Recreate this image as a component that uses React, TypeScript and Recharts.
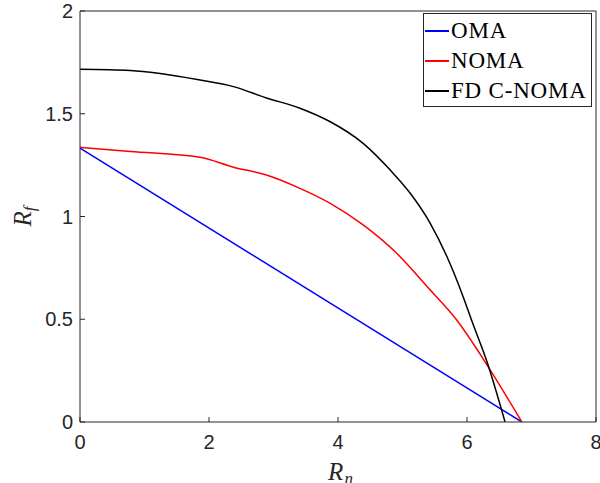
import { LineChart, Line, XAxis, YAxis, Label } from 'recharts'

// achievable rate region: far-user rate R_f vs near-user rate R_n
const omaRn = [0, 6.85]
const omaRf = [1.333, 0]

const nomaRn = [0, 0.78, 1.86, 2.38, 2.89, 3.41, 3.88, 4.39, 4.91, 5.43, 5.84, 6.28, 6.85]
const nomaRf = [1.337, 1.316, 1.288, 1.24, 1.202, 1.137, 1.064, 0.959, 0.821, 0.642, 0.496, 0.293, 0]

const fdRn = [0, 0.78, 1.86, 2.38, 2.89, 3.41, 3.88, 4.39, 4.81, 5.12, 5.43, 5.69, 5.94, 6.07, 6.31, 6.59]
const fdRf = [1.716, 1.71, 1.664, 1.632, 1.577, 1.527, 1.461, 1.356, 1.226, 1.113, 0.967, 0.804, 0.61, 0.496, 0.293, 0]

const xTicks = [0, 2, 4, 6, 8]
const yTicks = [0, 0.5, 1, 1.5, 2]

const series = [
  { name: 'OMA', color: '#0000ff', rn: omaRn, rf: omaRf },
  { name: 'NOMA', color: '#ff0000', rn: nomaRn, rf: nomaRf },
  { name: 'FD C-NOMA', color: '#000000', rn: fdRn, rf: fdRf },
]

const axisColor = '#262626'
const tickFont = { fontSize: 20, fill: axisColor, fontFamily: 'Liberation Sans, Arial, sans-serif' }
const mathFont = 'Liberation Serif, Times New Roman, serif'

function LegendBox() {
  return (
    <div
      style={{
        position: 'absolute',
        left: 423,
        top: 13,
        width: 169,
        height: 94,
        boxSizing: 'border-box',
        border: `1px solid ${axisColor}`,
        background: '#fff',
        padding: '2px 0 0 1px',
        fontFamily: mathFont,
        fontSize: 23,
        letterSpacing: 0.8,
        color: '#000',
        lineHeight: '30px',
      }}
    >
      {series.map((s) => (
        <div key={s.name} style={{ display: 'flex', alignItems: 'center' }}>
          <span style={{ width: 24, height: 1.5, background: s.color, marginRight: 2 }} />
          <span>{s.name}</span>
        </div>
      ))}
    </div>
  )
}

export default function App() {
  return (
    <div style={{ position: 'absolute', left: 0, top: 0, background: '#fff' }}>
      <LineChart width={600} height={483} margin={{ top: 10, right: 3, left: 0, bottom: 0 }}>
        <XAxis
          type="number"
          dataKey="x"
          domain={[0, 8]}
          ticks={xTicks}
          interval={0}
          height={61}
          tickSize={-5}
          tickMargin={18}
          stroke={axisColor}
          tick={tickFont}
          allowDataOverflow
        >
          <Label
            content={({ viewBox }: any) => (
              <text
                x={viewBox.x + viewBox.width / 2 + 3}
                y={viewBox.y + 58}
                textAnchor="middle"
                fontFamily={mathFont}
                fontStyle="italic"
                fontSize={25}
                letterSpacing={1}
                fill={axisColor}
              >
                R<tspan dy={4} fontSize={17}>n</tspan>
              </text>
            )}
          />
        </XAxis>
        {/* top and right edges of the box, ticks pointing inward */}
        <XAxis
          xAxisId="top"
          orientation="top"
          type="number"
          domain={[0, 8]}
          ticks={xTicks}
          interval={0}
          height={1}
          tickSize={-5}
          tick={false}
          stroke={axisColor}
        />
        <YAxis
          type="number"
          domain={[0, 2]}
          ticks={yTicks}
          interval={0}
          width={80}
          tickSize={-5}
          tickMargin={12}
          stroke={axisColor}
          tick={tickFont}
          allowDataOverflow
        >
          <Label
            content={({ viewBox }: any) => {
              const cx = 31
              const cy = viewBox.y + viewBox.height / 2
              return (
                <text
                  x={cx}
                  y={cy}
                  transform={`rotate(-90 ${cx} ${cy})`}
                  textAnchor="middle"
                  fontFamily={mathFont}
                  fontStyle="italic"
                  fontSize={25}
                  fill={axisColor}
                >
                  R<tspan dy={4} fontSize={17}>f</tspan>
                </text>
              )
            }}
          />
        </YAxis>
        <YAxis
          yAxisId="right"
          orientation="right"
          type="number"
          domain={[0, 2]}
          ticks={yTicks}
          interval={0}
          width={1}
          tickSize={-5}
          tick={false}
          stroke={axisColor}
        />
        {series.map((s) => (
          <Line
            key={s.name}
            name={s.name}
            data={s.rn.map((x, i) => ({ x, y: s.rf[i] }))}
            dataKey="y"
            type="monotone"
            stroke={s.color}
            strokeWidth={1.5}
            dot={false}
            activeDot={false}
            isAnimationActive={false}
          />
        ))}
      </LineChart>
      <LegendBox />
    </div>
  )
}
